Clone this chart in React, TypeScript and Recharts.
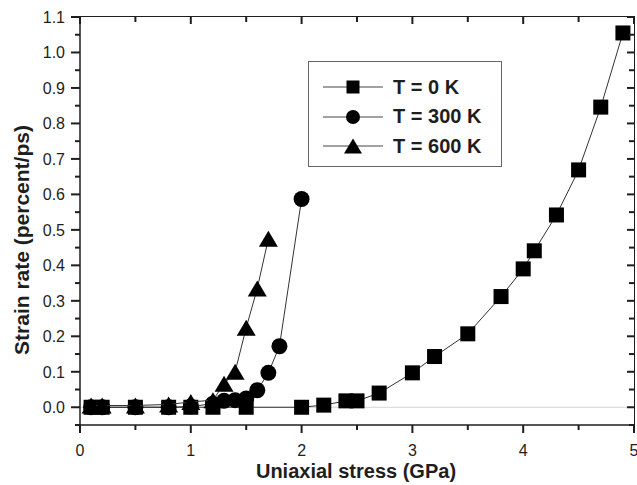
import React from 'react';
import { ScatterChart, Scatter, XAxis, YAxis, ReferenceLine } from 'recharts';

const FONT = '"Liberation Sans", Arial, Helvetica, sans-serif';
const INK = '#1e1e1e';

const CHART_W = 637;
const CHART_H = 485;
const MARGIN = { top: 17, right: 3, bottom: 0, left: 0 };
const Y_AXIS_W = 80;
const X_AXIS_H = 60;
const PLOT_TOP = MARGIN.top;
const PLOT_LEFT = MARGIN.left + Y_AXIS_W;
const PLOT_RIGHT = CHART_W - MARGIN.right;
const PLOT_BOTTOM = CHART_H - MARGIN.bottom - X_AXIS_H;

// tick positions (minor + major)
const xTicks = [0, 0.5, 1, 1.5, 2, 2.5, 3, 3.5, 4, 4.5, 5];
const yTicks = [
  -0.05, 0, 0.05, 0.1, 0.15, 0.2, 0.25, 0.3, 0.35, 0.4, 0.45, 0.5, 0.55,
  0.6, 0.65, 0.7, 0.75, 0.8, 0.85, 0.9, 0.95, 1.0, 1.05, 1.1,
];

// T = 0 K
const t0Stress = [0.1, 0.2, 0.5, 0.8, 1.0, 1.2, 1.5, 2.0, 2.2, 2.4, 2.5, 2.7, 3.0, 3.2, 3.5, 3.8, 4.0, 4.1, 4.3, 4.5, 4.7, 4.9];
const t0Rate = [0, 0, 0, 0, 0, 0, 0, 0, 0.006, 0.018, 0.018, 0.04, 0.097, 0.143, 0.207, 0.312, 0.39, 0.441, 0.542, 0.669, 0.846, 1.055];

// T = 300 K
const t300Stress = [0.1, 0.2, 0.5, 0.8, 1.0, 1.2, 1.3, 1.4, 1.5, 1.6, 1.7, 1.8, 2.0];
const t300Rate = [0, 0, 0, 0, 0.002, 0.01, 0.018, 0.02, 0.025, 0.048, 0.097, 0.172, 0.587];

// T = 600 K
const t600Stress = [0.1, 0.2, 0.5, 0.8, 1.0, 1.2, 1.3, 1.4, 1.5, 1.6, 1.7];
const t600Rate = [0.005, 0.005, 0.005, 0.008, 0.015, 0.02, 0.066, 0.1, 0.224, 0.335, 0.475];

const toPoints = (xs: number[], ys: number[]) => xs.map((x, i) => ({ x, y: ys[i] }));

const isMajorX = (v: number) => Math.abs(v - Math.round(v)) < 1e-6;
const isMajorY = (v: number) => Math.abs(v * 10 - Math.round(v * 10)) < 1e-6 && v > -0.01;

const Square = ({ cx, cy, s = 15 }: any) => (
  <rect x={cx - s / 2} y={cy - s / 2} width={s} height={s} fill="#000" />
);
const Dot = ({ cx, cy, r = 8 }: any) => <circle cx={cx} cy={cy} r={r} fill="#000" />;
const Tri = ({ cx, cy, w = 19, h = 16 }: any) => (
  <polygon points={`${cx},${cy - h / 2} ${cx + w / 2},${cy + h / 2} ${cx - w / 2},${cy + h / 2}`} fill="#000" />
);

// bottom ticks (outward) + matching inward ticks on the top frame edge
const BottomTick = ({ x, y, payload }: any) => {
  const major = isMajorX(payload.value);
  return (
    <g>
      <path d={`M${x},${y}V${y + (major ? 8 : 5)}`} stroke={INK} strokeWidth={2} fill="none" />
      <path d={`M${x},${PLOT_TOP}V${PLOT_TOP + (major ? 7 : 5)}`} stroke={INK} strokeWidth={2} fill="none" />
      {major && (
        <text x={x} y={y + 31} textAnchor="middle" fontFamily={FONT} fontSize={16} fill={INK}>
          {String(payload.value)}
        </text>
      )}
    </g>
  );
};

// left ticks (outward) + matching inward ticks on the right frame edge
const LeftTick = ({ x, y, payload }: any) => {
  const major = isMajorY(payload.value);
  return (
    <g>
      <path d={`M${x},${y}H${x - (major ? 9 : 5)}`} stroke={INK} strokeWidth={2} fill="none" />
      <path d={`M${PLOT_RIGHT},${y}H${PLOT_RIGHT - (major ? 7 : 5)}`} stroke={INK} strokeWidth={2} fill="none" />
      {major && (
        <text x={x - 15} y={y} dy="0.36em" textAnchor="end" fontFamily={FONT} fontSize={16} fill={INK}>
          {payload.value.toFixed(1)}
        </text>
      )}
    </g>
  );
};

const axisLine = { stroke: INK, strokeWidth: 1.5 };
const seriesLine = { stroke: '#333', strokeWidth: 1 };

const legendRows = [
  { name: 'T = 0 K', marker: <Square cx={30} cy={12} s={13} /> },
  { name: 'T = 300 K', marker: <Dot cx={30} cy={12} r={7} /> },
  { name: 'T = 600 K', marker: <Tri cx={30} cy={12} w={18} h={15} /> },
];

const App: React.FC = () => {
  return (
    <div style={{ position: 'absolute', left: 0, top: 0, width: CHART_W, height: CHART_H, background: '#fff' }}>
      <ScatterChart width={CHART_W} height={CHART_H} margin={MARGIN}>
        <XAxis
          type="number"
          dataKey="x"
          domain={[0, 5]}
          ticks={xTicks}
          interval={0}
          tickSize={0}
          tickMargin={0}
          tickLine={false}
          tick={BottomTick}
          axisLine={axisLine}
          height={X_AXIS_H}
          label={() => (
            <text x={356} y={478} textAnchor="middle" fontFamily={FONT} fontSize={20} fontWeight="bold" fill={INK}>
              Uniaxial stress (GPa)
            </text>
          )}
        />
        <YAxis
          type="number"
          dataKey="y"
          domain={[-0.05, 1.1]}
          ticks={yTicks}
          interval={0}
          tickSize={0}
          tickMargin={0}
          tickLine={false}
          tick={LeftTick}
          axisLine={axisLine}
          width={Y_AXIS_W}
          label={() => (
            <text
              x={29}
              y={240}
              transform="rotate(-90 29 240)"
              textAnchor="middle"
              fontFamily={FONT}
              fontSize={21}
              fontWeight="bold"
              fill={INK}
            >
              Strain rate (percent/ps)
            </text>
          )}
        />
        <ReferenceLine y={0} stroke="#d4d4d4" strokeWidth={1} />

        <Scatter
          name="T = 0 K"
          data={toPoints(t0Stress, t0Rate)}
          line={seriesLine}
          shape={(p: any) => <Square cx={p.cx} cy={p.cy} />}
          isAnimationActive={false}
        />
        <Scatter
          name="T = 300 K"
          data={toPoints(t300Stress, t300Rate)}
          line={seriesLine}
          shape={(p: any) => <Dot cx={p.cx} cy={p.cy} />}
          isAnimationActive={false}
        />
        <Scatter
          name="T = 600 K"
          data={toPoints(t600Stress, t600Rate)}
          line={seriesLine}
          shape={(p: any) => <Tri cx={p.cx} cy={p.cy} />}
          isAnimationActive={false}
        />
      </ScatterChart>

      {/* top and right edges of the plot frame */}
      <div
        style={{
          position: 'absolute',
          left: PLOT_LEFT,
          top: PLOT_TOP - 0.75,
          width: PLOT_RIGHT - PLOT_LEFT + 0.75,
          height: PLOT_BOTTOM - PLOT_TOP + 0.75,
          borderTop: `1.5px solid ${INK}`,
          borderRight: `1.5px solid ${INK}`,
          boxSizing: 'border-box',
          pointerEvents: 'none',
        }}
      />

      {/* legend box */}
      <div
        style={{
          position: 'absolute',
          left: 308,
          top: 61,
          width: 194,
          height: 106,
          border: '1.5px solid #666',
          background: '#fff',
          boxSizing: 'border-box',
        }}
      >
        {legendRows.map((row, i) => (
          <div
            key={i}
            style={{ position: 'absolute', left: 14, top: 13 + i * 29.5, height: 24, display: 'flex', alignItems: 'center' }}
          >
            <svg width={62} height={24}>
              <line x1={0} x2={60} y1={12} y2={12} stroke="#444" strokeWidth={1} />
              {row.marker}
            </svg>
            <span
              style={{
                marginLeft: 8,
                fontFamily: FONT,
                fontWeight: 'bold',
                fontSize: 20,
                color: INK,
                whiteSpace: 'nowrap',
              }}
            >
              {row.name}
            </span>
          </div>
        ))}
      </div>
    </div>
  );
};

export default App;
